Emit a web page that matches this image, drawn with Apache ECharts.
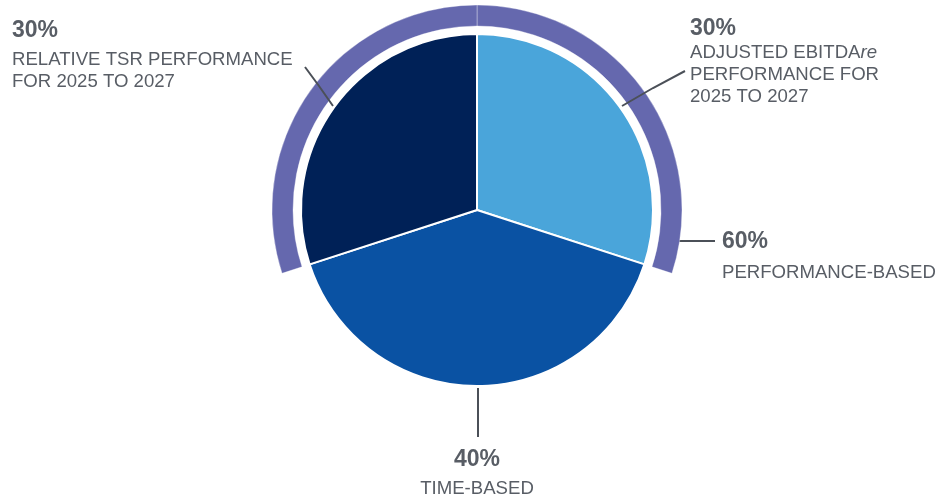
<!DOCTYPE html>
<html>
<head>
<meta charset="utf-8">
<style>
  html, body { margin: 0; padding: 0; background: #ffffff; }
  #chart { width: 942px; height: 498px; }
</style>
<script src="https://cdn.jsdelivr.net/npm/echarts@6/dist/echarts.min.js"></script>
</head>
<body>
<div id="chart"></div>
<script>
// ---- data ----
const sliceKeys = ['ebitda', 'time', 'tsr'];
const sliceValues = [30, 40, 30];
const sliceLabelLines = [
  ['ADJUSTED EBITDAre', 'PERFORMANCE FOR', '2025 TO 2027'],
  ['TIME-BASED'],
  ['RELATIVE TSR PERFORMANCE', 'FOR 2025 TO 2027']
];
const ringGroup = [true, false, true];          // slices belonging to the performance-based ring
const ringLabelLines = ['PERFORMANCE-BASED'];

// ---- styles ----
const sliceColors = ['#4aa5da', '#0a52a3', '#002157'];
const ringColor = '#6568ae';
const textColor = '#585d65';
const lineColor = '#4b5058';
const center = [477, 210];

const ringValue = sliceValues.reduce((s, v, i) => s + (ringGroup[i] ? v : 0), 0);

function fmtLine(s) {
  if (s.indexOf('EBITDAre') >= 0) {
    const parts = s.split('EBITDAre');
    return '{t|' + parts[0] + 'EBITDA}{i|re}' + (parts[1] ? '{t|' + parts[1] + '}' : '');
  }
  return '{t|' + s + '}';
}

// label placement
const sliceLabelPos = [
  { x: 690, y: 16, align: 'left', p: 'p1', pts: [[622, 106], [653, 88], [685, 71]] },
  { x: 477, y: 442, align: 'center', p: 'p2', pts: [[478, 388], [478, 412], [478, 437]] },
  { x: 12, y: 13, align: 'left', p: 'p2', pts: [[333, 106], [319, 86], [305, 67]] }
];
const ringLabelPos = { x: 722, y: 222, align: 'left', p: 'p3', pts: [[677, 241], [696, 241], [715, 241]] };

const rich = {
  p1: { fontFamily: 'Liberation Sans', fontWeight: 'bold', fontSize: 23, color: textColor, lineHeight: 26 },
  p2: { fontFamily: 'Liberation Sans', fontWeight: 'bold', fontSize: 23, color: textColor, lineHeight: 36 },
  p3: { fontFamily: 'Liberation Sans', fontWeight: 'bold', fontSize: 23, color: textColor, lineHeight: 40 },
  t: { fontFamily: 'Liberation Sans', fontSize: 18.6, color: textColor, lineHeight: 22 },
  i: { fontFamily: 'Liberation Sans', fontStyle: 'italic', fontSize: 18.6, color: textColor, lineHeight: 22 }
};

const pieData = sliceKeys.map((k, i) => ({
  name: k,
  value: sliceValues[i],
  itemStyle: { color: sliceColors[i] },
  label: {
    formatter: '{' + sliceLabelPos[i].p + '|' + sliceValues[i] + '%}\n' + sliceLabelLines[i].map(fmtLine).join('\n')
  }
}));

let firstRing = true;
const ringData = sliceKeys.map((k, i) => {
  if (!ringGroup[i]) {
    return { name: k, value: sliceValues[i], itemStyle: { color: 'rgba(0,0,0,0)', borderWidth: 0 }, label: { show: false }, labelLine: { show: false } };
  }
  const showLabel = firstRing;
  firstRing = false;
  return {
    name: k,
    value: sliceValues[i],
    itemStyle: { color: ringColor },
    label: {
      show: showLabel,
      formatter: '{' + ringLabelPos.p + '|' + ringValue + '%}\n' + ringLabelLines.map(fmtLine).join('\n')
    },
    labelLine: { show: showLabel }
  };
});

const chart = echarts.init(document.getElementById('chart'), null, { renderer: 'canvas' });
chart.setOption({
  backgroundColor: '#ffffff',
  animation: false,
  series: [
    {
      type: 'pie',
      center: center,
      radius: [184, 205],
      startAngle: 90,
      clockwise: true,
      silent: true,
      avoidLabelOverlap: false,
      itemStyle: { borderColor: 'rgba(255,255,255,0.35)', borderWidth: 1 },
      label: { show: true, position: 'outside', rich: rich },
      labelLine: { show: true, lineStyle: { color: lineColor, width: 2 } },
      labelLayout: function () {
        return {
          x: ringLabelPos.x, y: ringLabelPos.y, align: ringLabelPos.align, verticalAlign: 'top',
          labelLinePoints: ringLabelPos.pts
        };
      },
      data: ringData,
      z: 1
    },
    {
      type: 'pie',
      center: center,
      radius: [0, 176],
      startAngle: 90,
      clockwise: true,
      silent: true,
      avoidLabelOverlap: false,
      itemStyle: { borderColor: '#ffffff', borderWidth: 2 },
      label: { show: true, position: 'outside', rich: rich },
      labelLine: { show: true, lineStyle: { color: lineColor, width: 2 } },
      labelLayout: function (params) {
        const pos = sliceLabelPos[params.dataIndex];
        return {
          x: pos.x, y: pos.y, align: pos.align, verticalAlign: 'top',
          labelLinePoints: pos.pts
        };
      },
      data: pieData,
      z: 2
    }
  ]
});
</script>
</body>
</html>
